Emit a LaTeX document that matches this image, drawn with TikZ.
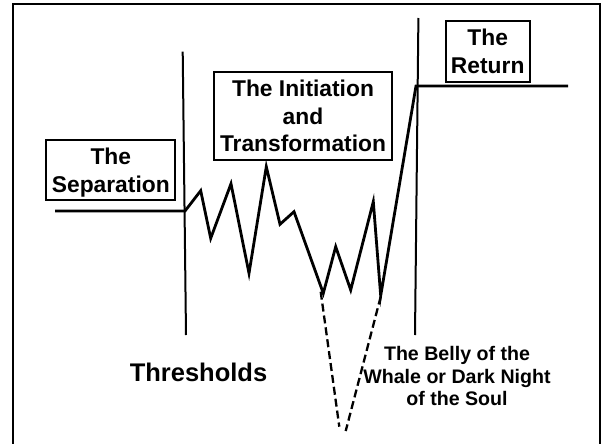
\documentclass[tikz,border=0pt]{standalone}
\usepackage{fontspec}
\setmainfont{Liberation Sans}
\begin{document}
\begin{tikzpicture}[x=1pt,y=-1pt,
  boxnode/.style={draw,line width=2pt,align=center,inner sep=0pt,text depth=0pt,
     font=\bfseries\fontsize{22.8}{27.5}\selectfont},
  thick line/.style={line width=2.8pt,line join=miter},
  threshold/.style={line width=2pt},
  dashline/.style={line width=2.3pt,dash pattern=on 8pt off 4pt}]
\useasboundingbox (0,0) rectangle (602,444);
% frame
\draw[line width=2.5pt] (13,450) -- (13,4) -- (600,4) -- (600,450);
% thresholds
\coordinate (tl1) at (182.7,51.7);
\coordinate (tl2) at (186,335);
\coordinate (tr1) at (418.4,18);
\coordinate (tr2) at (415,335);
\draw[threshold] (tl1) -- (tl2);
\draw[threshold] (tr1) -- (tr2);
% journey points
\coordinate (s0) at (55,211);
\coordinate (p0) at (185,211);
\coordinate (p1) at (200.7,190.7);
\coordinate (p2) at (210.7,238.3);
\coordinate (p3) at (231,183.7);
\coordinate (p4) at (249,273.3);
\coordinate (p5) at (266.3,166.7);
\coordinate (p6) at (280,224.3);
\coordinate (p7) at (294,211.7);
\coordinate (p8) at (323.3,293.3);
\coordinate (p9) at (335.7,246.7);
\coordinate (p10) at (350.7,290);
\coordinate (p11) at (373.3,201.7);
\coordinate (p12) at (380.7,295.7);
\coordinate (p13) at (416,86);
\coordinate (r1) at (568,86);
\draw[thick line] (s0) -- (p0) -- (p1) -- (p2) -- (p3) -- (p4) -- (p5) -- (p6) -- (p7)
  -- (p8) -- (p9) -- (p10) -- (p11) -- (p12) -- (p13) -- (r1);
% abyss
\coordinate (d1) at (320.7,291.7);
\coordinate (d2) at (339.3,426.7);
\coordinate (d3) at (380.7,296.7);
\coordinate (d4) at (345.7,431);
\draw[dashline] (d1) -- (d2);
\draw[dashline] (d3) -- (d4);
% boxes
\node[boxnode,minimum width=129pt,minimum height=60pt] (sep) at (110.8,170.3) {The\\Separation};
\node[boxnode,minimum width=178pt,minimum height=88.5pt] (init) at (303,116) {The Initiation\\and\\Transformation};
\node[boxnode,minimum width=84pt,minimum height=60.5pt] (ret) at (487.7,51.3) {The\\Return};
% labels
\node[font=\bfseries\fontsize{25.5}{30}\selectfont,inner sep=0pt] (thr) at (198.5,372) {Thresholds};
\node[font=\bfseries\fontsize{19.6}{22.4}\selectfont,inner sep=0pt,align=center,text depth=0pt] (belly) at (457,376)
  {The Belly of the\\Whale or Dark Night\\of the Soul};
\end{tikzpicture}
\end{document}
